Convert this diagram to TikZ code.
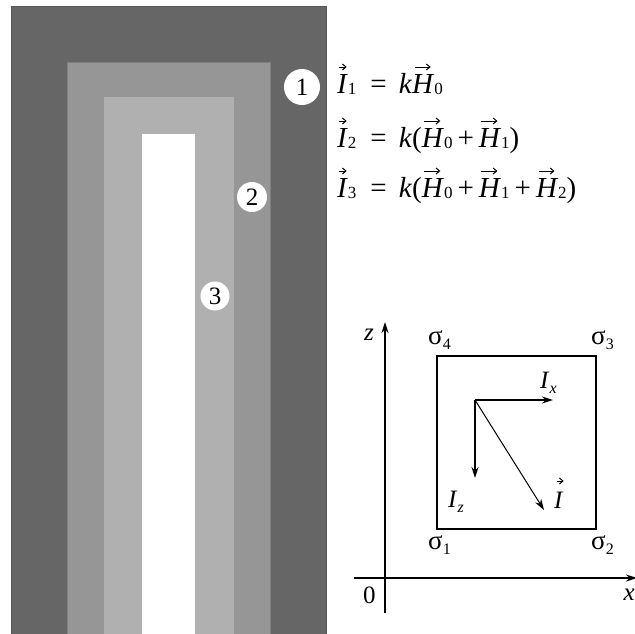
\documentclass[tikz,border=0pt]{standalone}
\usepackage{fontspec}
\setmainfont{Liberation Serif}
\usetikzlibrary{arrows.meta}
\newcommand{\sizeE}{\fontsize{29}{32}\selectfont}
\newcommand{\sizeL}{\fontsize{25}{28}\selectfont}
\newcommand{\sizeG}{\fontsize{27}{30}\selectfont}
\newcommand{\sizeS}{\fontsize{17}{19}\selectfont}
\newcommand{\sizeT}{\fontsize{16}{18}\selectfont}
% letter with arrow above: #1 shift, #2 arrow length, #3 raise, #4 letter
\newcommand{\arw}[4]{\leavevmode\rlap{\kern#1\raisebox{#3}[0pt][0pt]{\tikz[baseline]{\draw[line width=1pt,-{Straight Barb[length=3.5pt,width=6pt]}] (0,0)--(#2,0);}}}\textit{#4}}
\newcommand{\subE}[1]{\raisebox{-1.5pt}{\sizeS #1}}
\newcommand{\subL}[1]{\raisebox{-5pt}{\sizeT #1}}
\newcommand{\VI}{\arw{1pt}{8pt}{26pt}{I}}
\newcommand{\VH}{\arw{2pt}{16pt}{26pt}{H}}
\newcommand{\gapP}{\hspace{5pt}+\hspace{5pt}}
\newcommand{\gapE}{\hspace{14pt}=\hspace{12pt}}
\tikzset{
  x=1pt,y=-1pt,
  layer/.style={draw=#1!85!black,line width=.4pt,fill=#1},
  num/.style={circle,fill=white,inner sep=0pt,minimum size=#1,font=\sizeL},
  eqn/.style={anchor=base west,inner sep=0pt,font=\sizeE},
  lab/.style={anchor=base west,inner sep=0pt,font=\sizeL},
  sig/.style={anchor=base west,inner sep=0pt,font=\sizeG},
  axis/.style={line width=1.6pt,-{Stealth[length=11pt,width=7pt]}},
  vect/.style={line width=1.5pt,-{Stealth[length=11pt,width=7pt]}},
  diag/.style={line width=1pt,-{Stealth[length=11pt,width=7pt]}},
  frame/.style={draw,line width=1.6pt}
}
\definecolor{lay1}{HTML}{666666}
\definecolor{lay2}{HTML}{969696}
\definecolor{lay3}{HTML}{B0B0B0}
\begin{document}
\begin{tikzpicture}
\useasboundingbox (0,0) rectangle (635,633);
\clip (0,0) rectangle (635,633);
\path[layer=lay1] (11,6) rectangle (326,640);
\path[layer=lay2] (67,62) rectangle (270,640);
\path[layer=lay3] (103,96) rectangle (234,640);
\fill[white] (142,134) rectangle (195,640);
\node[num=36pt] (n1) at (302,87) {1};
\node[num=30pt] (n2) at (252,197) {2};
\node[num=29pt] (n3) at (215,296) {3};
\node[eqn] (e1) at (337,93) {\VI\subE{1}\gapE\textit{k}\VH\subE{0}};
\node[eqn] (e2) at (337,147) {\VI\subE{2}\gapE\textit{k}(\VH\subE{0}\gapP\VH\subE{1})};
\node[eqn] (e3) at (337,197) {\VI\subE{3}\gapE\textit{k}(\VH\subE{0}\gapP\VH\subE{1}\gapP\VH\subE{2})};
% axes
\coordinate (zb) at (385,613);
\coordinate (zt) at (385,322);
\coordinate (xl) at (354,578);
\coordinate (xr) at (637,578);
\draw[axis] (zb)--(zt);
\draw[axis] (xl)--(xr);
\node[lab] (zl) at (364,340) {\textit{z}};
\node[lab] (ol) at (363,603) {0};
\node[lab,anchor=base east] (xn) at (635,600) {\textit{x}};
% square
\node[frame,minimum width=159pt,minimum height=173pt,inner sep=0pt] (sq) at (516.5,442.5) {};
\node[sig] (s4) at (428,344) {σ\subL{4}};
\node[sig] (s3) at (591,344) {σ\subL{3}};
\node[sig] (s1) at (428,549) {σ\subL{1}};
\node[sig] (s2) at (591,549) {σ\subL{2}};
\coordinate (o) at (475,400);
\coordinate (ix) at (553,400);
\coordinate (iz) at (475,478);
\coordinate (ii) at (544,510);
\draw[vect] (o)--(ix);
\draw[vect] (o)--(iz);
\draw[diag] (o)--(ii);
\node[lab] (lx) at (540,388) {\textit{I}\subL{\textit{x}}};
\node[lab] (lz) at (448,507) {\textit{I}\subL{\textit{z}}};
\node[lab] (li) at (554,508) {\arw{2pt}{7pt}{27pt}{I}};
\end{tikzpicture}
\end{document}
